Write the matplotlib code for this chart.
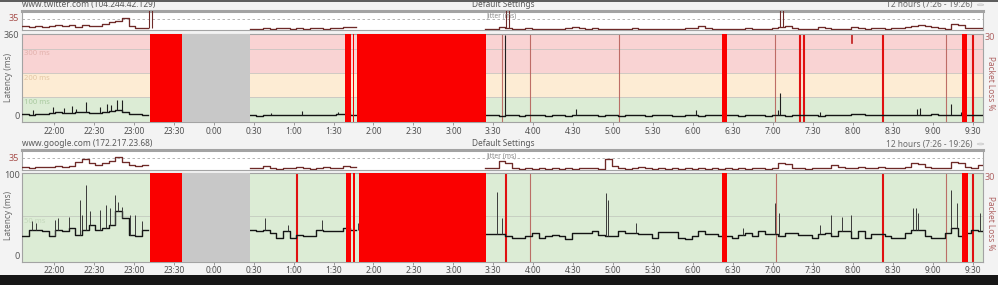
import numpy as np
import matplotlib
matplotlib.use('Agg')
import matplotlib.pyplot as plt

plt.rcParams['font.family'] = ['Noto Sans', 'DejaVu Sans']

# ---------------- data ----------------
STEP = 5 / 60.0          # traces sampled every 5 minutes (hours)
XMIN, XMAX = 21.60, 33.63  # hours since previous midnight (values > 24 = next day)

tick_hours = [22.0, 22.5, 23.0, 23.5, 24.0, 24.5, 25.0, 25.5, 26.0, 26.5, 27.0, 27.5,
              28.0, 28.5, 29.0, 29.5, 30.0, 30.5, 31.0, 31.5, 32.0, 32.5, 33.0, 33.5]
tick_labels = ['22:00', '22:30', '23:00', '23:30', '0:00', '0:30', '1:00', '1:30', '2:00',
               '2:30', '3:00', '3:30', '4:00', '4:30', '5:00', '5:30', '6:00', '6:30',
               '7:00', '7:30', '8:00', '8:30', '9:00', '9:30']

host1_title = 'www.twitter.com (104.244.42.129)'
host2_title = 'www.google.com (172.217.23.68)'
settings_label = 'Default Settings'
range_label = '12 hours (7:26 - 19:26)'

# --- twitter latency (ms) ---
tw_a_start = 21.60
tw_a = [30, 28, 32, 30, 34, 40, 36, 34, 38, 40, 36, 34, 40, 44, 46, 40, 32, 30, 28]
tw_a_spk_t = [21.74, 21.99, 22.12, 22.22, 22.28, 22.40, 22.58, 22.66, 22.72, 22.785, 22.85]
tw_a_spk_v = [45, 60, 55, 62, 50, 79, 58, 70, 66, 87, 90]
tw_b_start = 24.45
tw_b = [25, 24, 26, 25, 27, 25, 26, 28, 26, 25, 27, 26, 28, 30, 30, 28]
tw_b_spk_t = [24.72, 25.10, 25.55, 25.70]
tw_b_spk_v = [36, 44, 38, 40]
tw_c_start = 27.40
tw_c = [26, 25, 24, 26, 25, 24, 25, 26, 25, 24,
        25, 26, 24, 25, 25, 27, 25, 24, 25, 26,
        24, 25, 25, 26, 24, 25, 26, 25, 24, 24,
        26, 25, 24, 25, 26, 27, 28, 25, 24, 25,
        26, 25, 24, 25, 26, 24, 25, 26, 27, 25,
        24, 25, 26, 28, 27, 29, 30, 28, 27, 26,
        25, 26, 28, 27, 26, 25, 27, 29, 28, 26,
        25, 27, 28, 26, 27]
tw_c_spk_t = [27.651, 28.54, 30.04, 31.07, 31.095, 31.59, 32.80, 32.84, 33.23, 33.36]
tw_c_spk_v = [360, 53, 46, 46, 117, 40, 50, 55, 70, 40]

# --- twitter jitter (ms) ---
tj_a = [12, 10, 14, 10, 12, 17, 13, 16, 11, 16, 12, 13, 19, 25, 28, 37, 13, 5, 5]
tj_b = [4, 4, 5, 4, 6, 5, 4, 5, 4, 6, 5, 4, 5, 6, 8, 10]
tj_c = [4, 4, 8, 6, 4, 4, 5, 4, 4, 4,
        4, 4, 5, 10, 6, 4, 7, 4, 4, 4,
        4, 4, 5, 4, 4, 4, 4, 4, 4, 4,
        5, 6, 12, 5, 4, 4, 4, 4, 4, 5,
        4, 4, 4, 5, 8, 12, 5, 4, 4, 4,
        8, 5, 4, 4, 4, 10, 5, 4, 7, 5,
        4, 6, 5, 8, 12, 16, 14, 10, 6, 4,
        18, 16, 6, 7, 6]
tj_spk_t = [23.21, 27.68, 31.11]
tj_spk_v = [62, 62, 62]

# --- google latency (ms) ---
gg_a_start = 21.60
gg_a = [26, 34, 34, 32, 26, 34, 32, 36, 28, 34, 40, 34, 36, 40, 56, 48, 28, 26, 34]
gg_a_spk_t = [21.72, 21.78, 22.01, 22.05, 22.19, 22.32, 22.35, 22.40, 22.45, 22.58, 22.65,
              22.70, 22.76, 22.80, 22.85, 22.95, 23.01, 23.10]
gg_a_spk_v = [44, 42, 46, 48, 49, 70, 52, 88, 56, 58, 64, 60, 76, 68, 62, 52, 52, 45]
gg_b_start = 24.45
gg_b = [34, 32, 34, 30, 24, 32, 24, 28, 26, 26, 34, 32, 32, 32, 36, 34]
gg_b_spk_t = [24.64, 24.93, 25.35, 25.66, 25.75, 25.80]
gg_b_spk_v = [48, 40, 46, 52, 44, 42]
gg_c_start = 27.40
gg_c = [29, 29, 29, 26, 24, 24, 26, 30, 24, 26,
        28, 26, 23, 30, 30, 30, 32, 28, 26, 26,
        32, 30, 30, 29, 29,
        24, 31, 31, 31, 24, 23, 26, 32, 29, 29,
        26, 26, 24, 28, 30, 26, 32, 29, 29, 26,
        30, 30, 28, 28,
        24, 29, 30, 26, 32, 32, 24, 32, 24, 29,
        29, 26, 24, 24, 30, 34, 34, 26, 24, 24,
        30, 36, 26, 30, 34, 32]
gg_c_spk_t = [27.54, 27.61, 28.905, 28.93, 29.28, 30.63, 31.02, 31.08, 31.59, 31.73, 31.87,
              31.98, 32.75, 32.79, 32.82, 33.235, 33.30, 33.59]
gg_c_spk_v = [80, 48, 78, 70, 42, 36, 66, 54, 40, 52, 49, 52, 60, 60, 54, 82, 66, 54]

# --- google jitter (ms) ---
gj_a = [8, 7, 9, 8, 10, 11, 8, 12, 25, 33, 22, 14, 20, 26, 38, 24, 16, 12, 14]
gj_b = [5, 5, 12, 5, 4, 5, 6, 10, 5, 4, 5, 9, 5, 6, 12, 10]
gj_c = [5, 5, 26, 20, 5, 4, 5, 4, 5, 4,
        5, 4, 5, 4, 5, 6, 5, 4, 34, 12,
        5, 4, 5, 8, 5, 4, 5, 4, 5, 4,
        5, 4, 5, 4, 5, 4, 5, 4, 5, 4,
        5, 5, 4, 6, 20, 18, 6, 5, 4, 5,
        6, 5, 16, 10, 5, 6, 10, 5, 6, 8,
        5, 7, 6, 8, 22, 18, 8, 6, 5, 7,
        24, 20, 8, 7, 14]

# --- packet loss / outages ---
nodata_start, nodata_end = 23.60, 24.45
tw_loss_start = [23.20, 25.642, 25.746, 25.788, 30.364, 33.373]
tw_loss_end = [23.60, 25.713, 25.758, 27.403, 30.431, 33.430]
tw_loss_heavy = [31.340, 31.383, 32.376, 33.50]
tw_loss_light = [27.611, 27.961, 29.075, 31.032, 33.17]
tw_loss_partial_t = [31.987]
tw_loss_partial_pct = [3]
gg_loss_start = [23.20, 25.650, 25.745, 25.817, 30.364, 33.373]
gg_loss_end = [23.60, 25.717, 25.770, 27.403, 30.431, 33.440]
gg_loss_heavy = [25.037, 27.657, 32.376, 33.50]
gg_loss_light = [27.96, 31.036, 33.17]

# ---------------- drawing ----------------
W, H = 998, 285
BG = '#f3f3f3'
SPINE = '#a3a3a3'
fig = plt.figure(figsize=(W / 100, H / 100), dpi=100)
fig.patch.set_facecolor(BG)


def px_axes(x0, y0, x1, y1):
    return fig.add_axes([x0 / W, 1 - y1 / H, (x1 - x0) / W, (y1 - y0) / H])


def ftext(x, y, s, **kw):
    kw.setdefault('fontsize', 6)
    kw.setdefault('va', 'center')
    return fig.text(x / W, 1 - y / H, s, **kw)


def step_line(ax, start, vals, **kw):
    t = start + STEP * np.arange(len(vals) + 1)
    v = list(vals) + [vals[-1]]
    ax.step(t, v, where='post', **kw)


def spikes(ax, start, vals, ts, vs, **kw):
    idx = np.clip(((np.asarray(ts) - start) / STEP).astype(int), 0, len(vals) - 1)
    base = np.asarray(vals)[idx]
    ax.vlines(ts, base, vs, **kw)


def style_spines(ax, top_lw=0.8):
    for name, sp in ax.spines.items():
        sp.set_color(SPINE)
        sp.set_linewidth(top_lw if name == 'top' else 0.8)


def jitter_panel(y0, y1, segs, spk_t=None, spk_v=None):
    ax = px_axes(22, y0, 983, y1)
    ax.set_facecolor('white')
    ax.set_xlim(XMIN, XMAX)
    ax.set_ylim(0, 60)
    ax.set_xticks([])
    ax.set_yticks([])
    style_spines(ax, top_lw=2.2)
    ax.axhline(35, color='#a8a8a8', lw=0.6, ls=(0, (3, 3)), zorder=1)
    for start, vals in segs:
        step_line(ax, start, vals, color='#6e2a28', lw=0.95, zorder=3)
    if spk_t is not None:
        for t, v in zip(spk_t, spk_v):
            for start, vals in segs:
                if start <= t <= start + STEP * len(vals) + 0.05:
                    i = min(int((t - start) / STEP), len(vals) - 1)
                    ax.vlines([t - 0.015, t + 0.015], vals[i], v, color='#6e2a28', lw=0.8, zorder=3)
    return ax


def main_panel(y0, y1, ylim):
    ax = px_axes(22, y0, 983, y1)
    ax.set_xlim(XMIN, XMAX)
    ax.set_ylim(*ylim)
    ax.set_yticks([])
    ax.set_xticks(tick_hours)
    ax.set_xticklabels(tick_labels, fontsize=6, color='#505050')
    ax.tick_params(axis='x', length=2.5, width=0.6, color='#8a8a8a', pad=0.6)
    style_spines(ax)
    return ax


def loss_marks(ax, starts, ends, heavy, light, partial_t=(), partial_pct=()):
    ax.axvspan(nodata_start, nodata_end, color='#c8c8c8', lw=0, zorder=4)
    for s, e in zip(starts, ends):
        ax.axvspan(s, e, color='#fa0000', lw=0, zorder=4)
    for t in light:
        ax.axvline(t, color='#b8605a', lw=0.8, alpha=0.9, zorder=1.5)
    for t in heavy:
        ax.axvline(t, color='#e01010', lw=1.5, zorder=1.5)
    for t, p in zip(partial_t, partial_pct):
        ax.axvline(t, ymin=1 - p / 30.0, ymax=1, color='#c01818', lw=1.2, zorder=1.5)


# ===== Host 1: twitter =====
jitter_panel(11, 30, [(tw_a_start, tj_a), (tw_b_start, tj_b), (tw_c_start, tj_c)],
             tj_spk_t, tj_spk_v)
ax1 = main_panel(34.3, 122.3, (-4, 361))
ax1.axhspan(-10, 100, color='#dcecd5', lw=0, zorder=0)
ax1.axhspan(100, 200, color='#fdecd4', lw=0, zorder=0)
ax1.axhspan(200, 400, color='#f9d3d3', lw=0, zorder=0)
for g in (100, 200, 300):
    ax1.axhline(g, color='#c9c4c0', lw=0.6, zorder=0.5)
for g, c in ((300, '#e3b2ad'), (200, '#e3c6a4'), (100, '#aacaa0')):
    ax1.text(21.63, g - 6, f'{g} ms', fontsize=5.5, color=c, va='top', ha='left', zorder=1)
loss_marks(ax1, tw_loss_start, tw_loss_end, tw_loss_heavy, tw_loss_light,
           tw_loss_partial_t, tw_loss_partial_pct)
for start, vals, st, sv in ((tw_a_start, tw_a, tw_a_spk_t, tw_a_spk_v),
                            (tw_b_start, tw_b, tw_b_spk_t, tw_b_spk_v),
                            (tw_c_start, tw_c, tw_c_spk_t, tw_c_spk_v)):
    step_line(ax1, start, vals, color='#141414', lw=1.0, zorder=3)
    spikes(ax1, start, vals, st, sv, color='#1e1e1e', lw=0.8, zorder=3)

# ===== Host 2: google =====
jitter_panel(150, 170, [(gg_a_start, gj_a), (gg_b_start, gj_b), (gg_c_start, gj_c)])
ax2 = main_panel(173.3, 261.7, (-4.5, 102))
ax2.set_facecolor('#dcecd5')
ax2.axhline(50, color='#c4cbbf', lw=0.6, zorder=0.5)
ax2.text(21.63, 48, '50 ms', fontsize=5.5, color='#c5d9bd', va='top', ha='left', zorder=1)
loss_marks(ax2, gg_loss_start, gg_loss_end, gg_loss_heavy, gg_loss_light)
for start, vals, st, sv in ((gg_a_start, gg_a, gg_a_spk_t, gg_a_spk_v),
                            (gg_b_start, gg_b, gg_b_spk_t, gg_b_spk_v),
                            (gg_c_start, gg_c, gg_c_spk_t, gg_c_spk_v)):
    step_line(ax2, start, vals, color='#141414', lw=1.0, zorder=3)
    spikes(ax2, start, vals, st, sv, color='#3a3a3a', lw=0.7, zorder=3)

# ---------------- texts ----------------
GRAY = '#5a5a5a'
LOSS = '#b06464'
for ytitle, title in ((4.8, host1_title), (144, host2_title)):
    ftext(22, ytitle, title, color=GRAY, ha='left')
    ftext(503, ytitle, settings_label, color=GRAY, ha='center')
    ftext(972, ytitle, range_label, color='#6a6a6a', ha='right')
    fig.patches.append(plt.Circle((980.5 / W, 1 - ytitle / H), 3.2 / W,
                                  transform=fig.transFigure, facecolor='#e4e4e4',
                                  edgecolor='#c8c8c8', lw=0.5))
for yj in (15.7, 155.7):
    ftext(502, yj, 'Jitter (ms)', color='#8a8a8a', ha='center', fontsize=4.8)
for y35 in (18.8, 158.3):
    ftext(19, y35, '35', color='#a8504c', ha='right', fontsize=6.5)

ftext(19.5, 35.5, '360', color=GRAY, ha='right', fontsize=6.5)
ftext(19.5, 116.5, '0', color=GRAY, ha='right', fontsize=6.5)
ftext(19.5, 175, '100', color=GRAY, ha='right', fontsize=6.5)
ftext(19.5, 256.5, '0', color=GRAY, ha='right', fontsize=6.5)
ftext(8.5, 77, 'Latency (ms)', color='#6a6a6a', ha='center', rotation=90, fontsize=6)
ftext(8.5, 215, 'Latency (ms)', color='#6a6a6a', ha='center', rotation=90, fontsize=6)

ftext(985, 38, '30', color=LOSS, ha='left', fontsize=6.5)
ftext(985, 177.3, '30', color=LOSS, ha='left', fontsize=6.5)
ftext(990.5, 83, 'Packet Loss %', color=LOSS, ha='center', rotation=270, fontsize=6)
ftext(990.5, 223, 'Packet Loss %', color=LOSS, ha='center', rotation=270, fontsize=6)

# window chrome: dark strip on top, black strip at bottom
fig.patches.append(plt.Rectangle((0, 1 - 2.2 / H), 1, 2.2 / H, transform=fig.transFigure,
                                 facecolor='#5e5e5e', lw=0, zorder=10))
fig.patches.append(plt.Rectangle((0, 0), 1, 10 / H, transform=fig.transFigure,
                                 facecolor='#161616', lw=0, zorder=10))

fig.savefig('out.png', dpi=100, facecolor=fig.get_facecolor())
